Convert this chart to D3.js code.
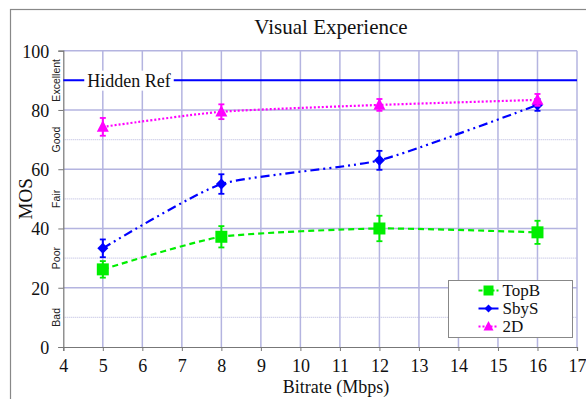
<!DOCTYPE html>
<html><head><meta charset="utf-8">
<script src="https://cdn.jsdelivr.net/npm/d3@7"></script>
<style>body{margin:0;background:#fff;} svg{display:block;}</style>
</head><body>
<script>
const bitrates = [5, 8, 12, 16];
const topB = [26.2, 37.2, 40.0, 38.7];
const topBErr = [2.8, 3.6, 4.3, 3.9];
const sbyS = [33.3, 55.0, 63.0, 81.7];
const sbySErr = [3.0, 3.3, 3.2, 2.0];
const twoD = [74.3, 79.4, 81.7, 83.4];
const twoDErr = [3.0, 2.5, 2.0, 2.0];
const hiddenRef = 90;
const xTicks = d3.range(4, 18);
const yTicks = [0, 20, 40, 60, 80, 100];
const qualityLevels = [{v:10,l:"Bad"},{v:30,l:"Poor"},{v:50,l:"Fair"},{v:70,l:"Good"},{v:90,l:"Excellent"}];
const seriesNames = ["TopB", "SbyS", "2D"];

const W = 586, H = 399;
const svg = d3.select("body").append("svg").attr("width", W).attr("height", H);
const serif = "Liberation Serif, Times New Roman, serif";
const sans = "Liberation Sans, Arial, sans-serif";

// outer frame
svg.append("rect").attr("x", 10.5).attr("y", 9.5).attr("width", 620).attr("height", 420)
  .attr("fill", "none").attr("stroke", "#888").attr("stroke-width", 1.2);

const x = d3.scaleLinear().domain([4, 17]).range([63.3, 577]);
const y = d3.scaleLinear().domain([0, 100]).range([347, 50.7]);

// minor gridlines
svg.append("g").selectAll("line").data(qualityLevels).join("line")
  .attr("x1", x(4)).attr("x2", x(17)).attr("y1", d => y(d.v)).attr("y2", d => y(d.v))
  .attr("stroke", "#c4c4e4").attr("stroke-width", 1.2).attr("stroke-dasharray", "1,1");
// major vertical gridlines
svg.append("g").selectAll("line").data(xTicks.slice(1)).join("line")
  .attr("x1", d => x(d)).attr("x2", d => x(d)).attr("y1", y(0)).attr("y2", y(100))
  .attr("stroke", "#b4b4e0").attr("stroke-width", 1.5);
// major horizontal gridlines
svg.append("g").selectAll("line").data(yTicks.slice(1)).join("line")
  .attr("x1", x(4)).attr("x2", x(17)).attr("y1", d => y(d)).attr("y2", d => y(d))
  .attr("stroke", "#b4b4e0").attr("stroke-width", 1.5);

// axes
const xAxis = svg.append("g").attr("transform", `translate(0,${y(0)})`)
  .call(d3.axisBottom(x).tickValues(xTicks).tickSize(4).tickPadding(8).tickFormat(d3.format("d")));
const yAxis = svg.append("g").attr("transform", `translate(${x(4)},0)`)
  .call(d3.axisLeft(y).tickValues(yTicks).tickSize(5).tickPadding(9));
[xAxis, yAxis].forEach(g => {
  g.attr("font-family", serif).attr("font-size", 18);
  g.select(".domain").attr("stroke", "#777").attr("stroke-width", 1.2);
  g.selectAll(".tick line").attr("stroke", "#777");
  g.selectAll("text").style("font-family", serif).attr("font-size", 18).attr("fill", "#111");
});
yAxis.selectAll("text").attr("dy", "0.35em");

// quality labels
svg.append("g").selectAll("text").data(qualityLevels).join("text")
  .attr("transform", d => `translate(60,${y(d.v)}) rotate(-90)`)
  .attr("text-anchor", "middle").style("font-family", sans).attr("font-size", 10.5).attr("fill", "#222")
  .text(d => d.l);

// titles
svg.append("text").attr("x", 331).attr("y", 34).attr("text-anchor", "middle")
  .style("font-family", serif).attr("font-size", 21).attr("fill", "#111").text("Visual Experience");
svg.append("text").attr("x", 336).attr("y", 393).attr("text-anchor", "middle")
  .style("font-family", serif).attr("font-size", 18).attr("fill", "#111").text("Bitrate (Mbps)");
svg.append("text").attr("transform", `translate(32,${y(50)}) rotate(-90)`).attr("text-anchor", "middle")
  .style("font-family", serif).attr("font-size", 19).attr("fill", "#111").text("MOS");

// hidden ref
svg.append("line").attr("x1", x(4)).attr("x2", x(17)).attr("y1", y(hiddenRef)).attr("y2", y(hiddenRef))
  .attr("stroke", "#0000ff").attr("stroke-width", 2);
const hrBg = svg.append("rect").attr("fill", "#fff");
const hr = svg.append("text").attr("x", 129).attr("y", y(hiddenRef)).attr("dy", "0.35em")
  .attr("text-anchor", "middle").style("font-family", serif).attr("font-size", 18).attr("fill", "#111").text("Hidden Ref");
const bb = hr.node().getBBox();
hrBg.attr("x", bb.x - 3).attr("y", bb.y).attr("width", bb.width + 6).attr("height", bb.height);

const series = [
  {name: seriesNames[0], vals: topB, err: topBErr, color: "#00ee00", dash: "6,4", marker: "square"},
  {name: seriesNames[1], vals: sbyS, err: sbySErr, color: "#0000ff", dash: "9,4,2,4,2,4", marker: "diamond"},
  {name: seriesNames[2], vals: twoD, err: twoDErr, color: "#ff00ff", dash: "2,2", marker: "triangle"}
];
const line = d3.line().x(d => x(d[0])).y(d => y(d[1])).curve(d3.curveCardinal.tension(0.45));
function markerPath(type, size) {
  const s = size / 2;
  if (type === "square") return `M${-s},${-s}h${size}v${size}h${-size}Z`;
  if (type === "diamond") return `M0,${-s}L${s},0L0,${s}L${-s},0Z`;
  return `M0,${-s*1.1}L${s},${s*0.8}L${-s},${s*0.8}Z`;
}
const msize = {square: 12, diamond: 11, triangle: 12};

series.forEach(s => {
  const pts = bitrates.map((b, i) => [b, s.vals[i], s.err[i]]);
  const g = svg.append("g");
  g.append("path").attr("d", line(pts)).attr("fill", "none").attr("stroke", s.color)
    .attr("stroke-width", 2.2).attr("stroke-dasharray", s.dash);
  g.selectAll("line.eb").data(pts).join("line").attr("class", "eb")
    .attr("x1", d => x(d[0])).attr("x2", d => x(d[0])).attr("y1", d => y(d[1] - d[2])).attr("y2", d => y(d[1] + d[2]))
    .attr("stroke", s.color).attr("stroke-width", 2);
  [-1, 1].forEach(sg => {
    g.selectAll("line.cap" + (sg > 0 ? "p" : "n")).data(pts).join("line").attr("class", "cap" + (sg > 0 ? "p" : "n"))
      .attr("x1", d => x(d[0]) - 3).attr("x2", d => x(d[0]) + 3)
      .attr("y1", d => y(d[1] + sg * d[2])).attr("y2", d => y(d[1] + sg * d[2]))
      .attr("stroke", s.color).attr("stroke-width", 1.8);
  });
  g.selectAll("path.m").data(pts).join("path").attr("class", "m")
    .attr("transform", d => `translate(${x(d[0])},${y(d[1])})`)
    .attr("d", markerPath(s.marker, msize[s.marker])).attr("fill", s.color);
});

// legend
const lg = svg.append("g").attr("transform", "translate(448.5,280.5)");
lg.append("rect").attr("width", 124).attr("height", 57).attr("fill", "#fff").attr("stroke", "#888").attr("stroke-width", 1);
series.forEach((s, i) => {
  const yy = 10 + i * 18;
  lg.append("line").attr("x1", 30).attr("x2", 50).attr("y1", yy).attr("y2", yy)
    .attr("stroke", s.color).attr("stroke-width", 2).attr("stroke-dasharray", s.marker === "triangle" ? "2,2" : (s.marker === "square" ? "4,2" : null));
  lg.append("path").attr("transform", `translate(40,${yy})`).attr("d", markerPath(s.marker, s.marker === "diamond" ? 8 : 10)).attr("fill", s.color);
  lg.append("text").attr("x", 54).attr("y", yy).attr("dy", "0.35em").style("font-family", serif)
    .attr("font-size", 17).attr("fill", "#111").text(s.name);
});
</script>
</body></html>
